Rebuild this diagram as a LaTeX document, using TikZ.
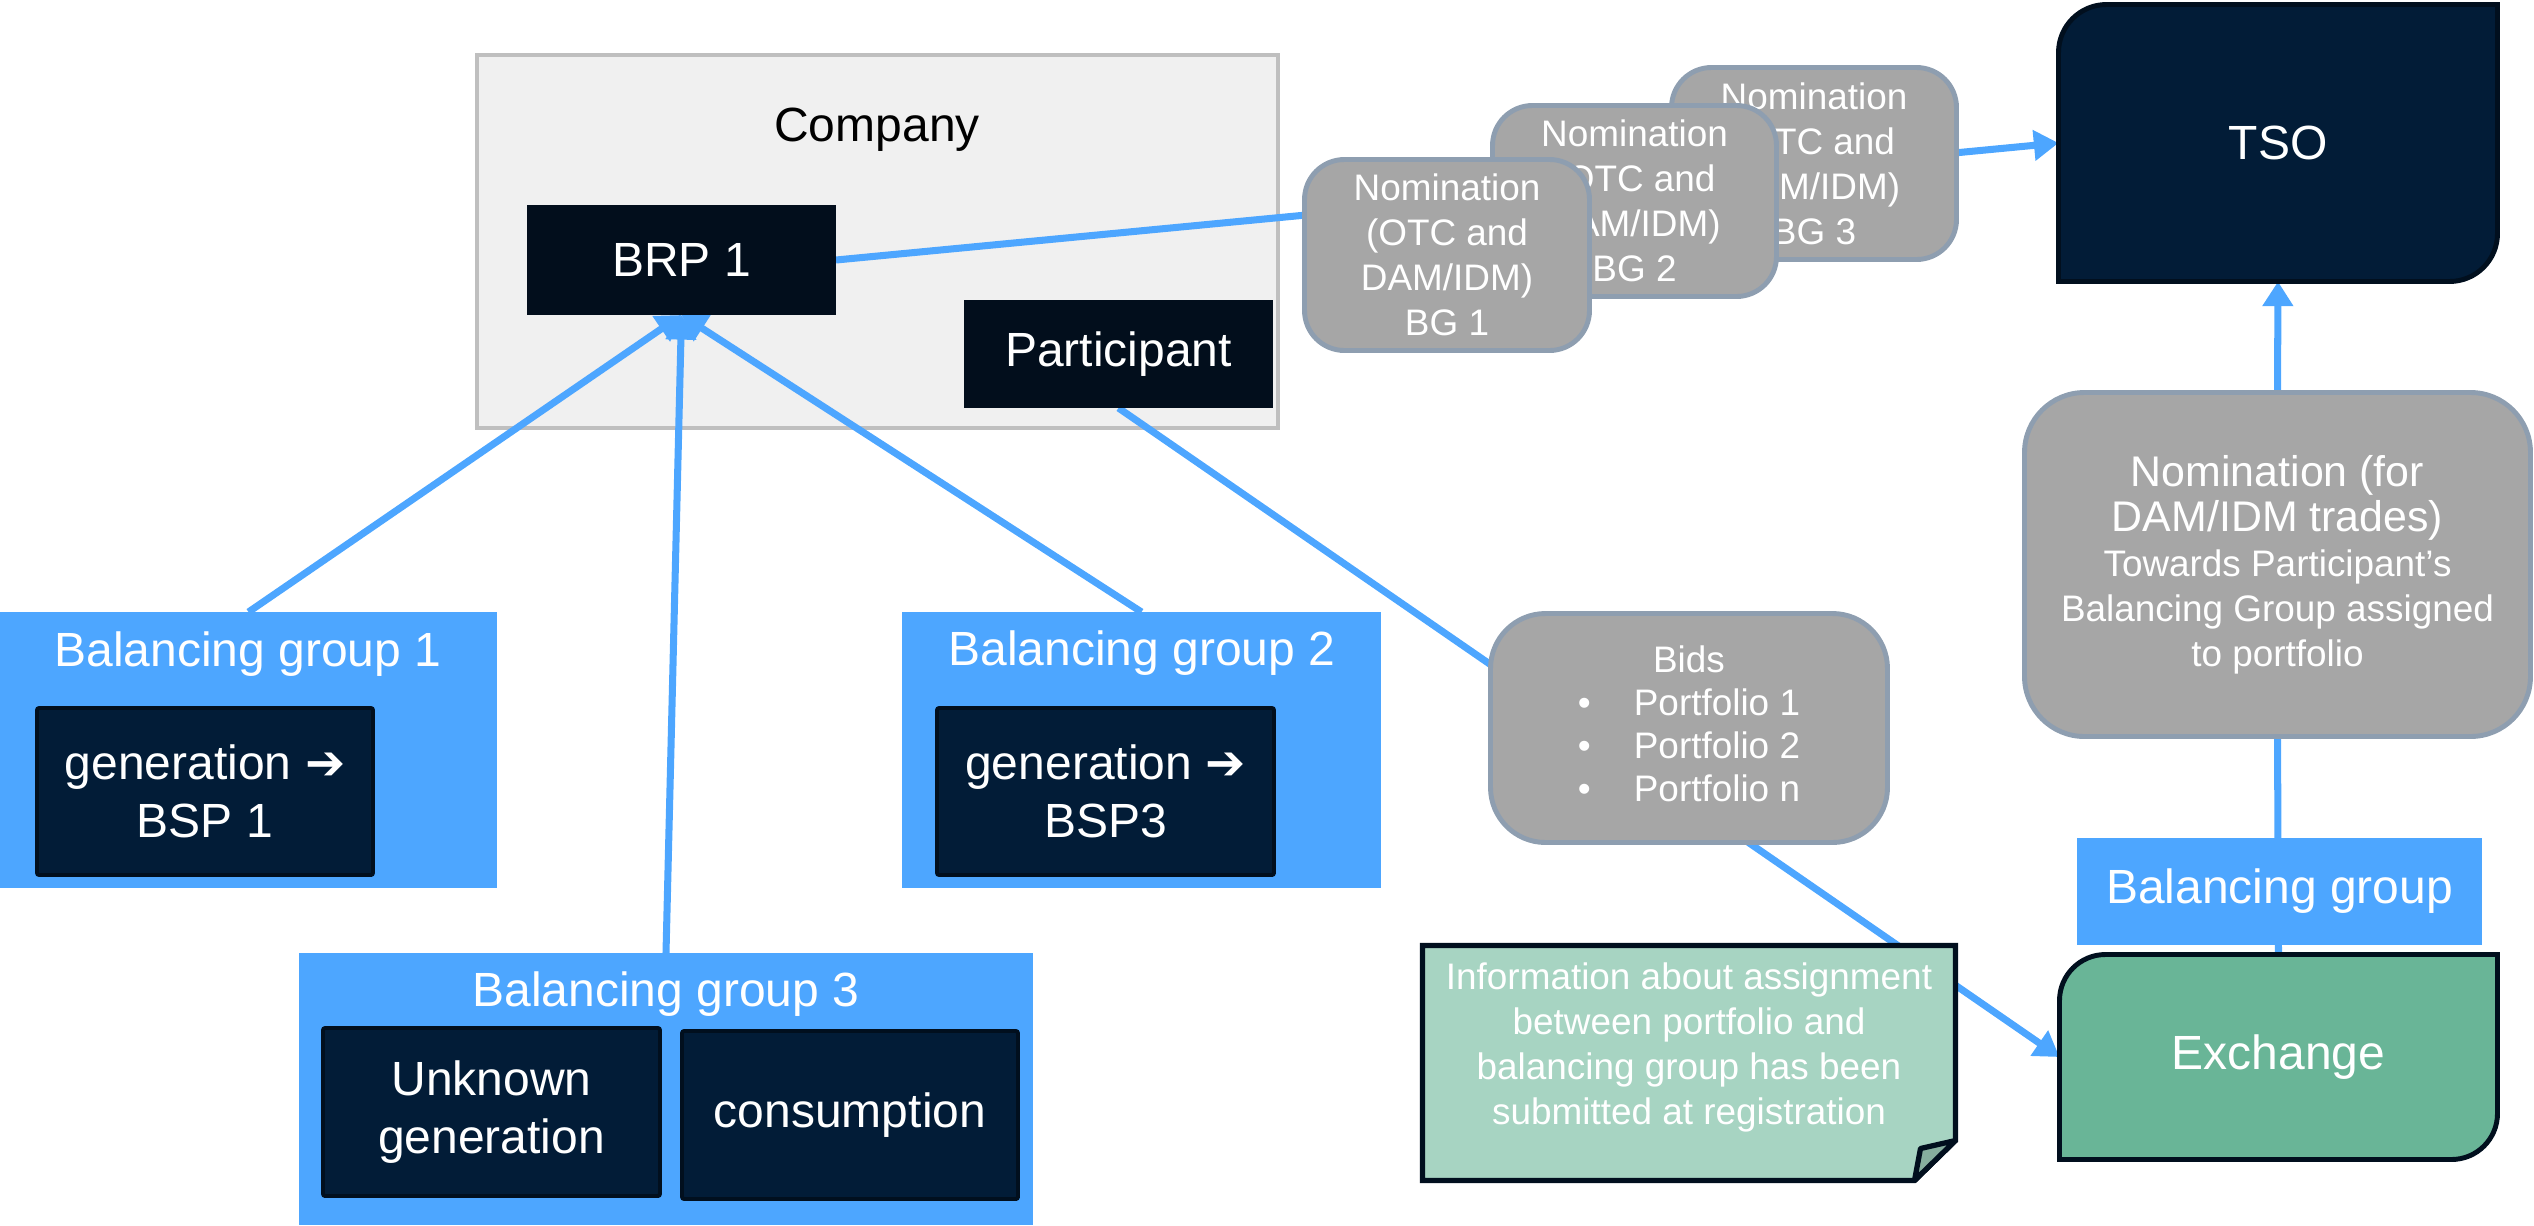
\documentclass[tikz,border=0pt]{standalone}
\usepackage{fontspec}
\setmainfont{Liberation Sans}
\newfontfamily\arrowfont{DejaVu Sans}
\usetikzlibrary{arrows.meta,calc}

\definecolor{flowblue}{HTML}{4DA6FF}
\definecolor{navy}{HTML}{021C37}
\definecolor{navyedge}{HTML}{010F1E}
\definecolor{brpblack}{HTML}{020E1C}
\definecolor{nomgray}{HTML}{A6A6A6}
\definecolor{nomedge}{HTML}{8E9EB0}
\definecolor{companyfill}{HTML}{F0F0F0}
\definecolor{companyedge}{HTML}{BFBFBF}
\definecolor{exchgreen}{HTML}{69B597}
\definecolor{notegreen}{HTML}{A7D4C2}
\definecolor{notefold}{HTML}{86AE9E}

\pgfdeclarelayer{background}
\pgfdeclarelayer{lines}
\pgfdeclarelayer{shapes}
\pgfsetlayers{background,lines,shapes,main}

% rectangle with rounded top-left and bottom-right corners, built on a node
\newcommand\diagcorners[2]{(#1.south west) -- ([yshift=-#2]#1.north west)
  arc[start angle=180,end angle=90,radius=#2] -- (#1.north east)
  -- ([yshift=#2]#1.south east) arc[start angle=0,end angle=-90,radius=#2] -- cycle}

\tikzset{
  bigfont/.style={font=\fontsize{13.66}{16.5}\selectfont},
  smallfont/.style={font=\fontsize{10.5}{12.8}\selectfont},
  box/.style={rectangle, inner sep=0pt, outer sep=0pt, align=center, text=white},
  darkbox/.style={box, fill=brpblack, bigfont},
  navybox/.style={box, fill=navy, draw=navyedge, line width=1.1pt, rounded corners=0.6pt, bigfont},
  groupbox/.style={box, fill=flowblue},
  grouptitle/.style={inner sep=0pt, text=white, bigfont},
  nomination/.style={box, fill=nomgray, draw=nomedge, line width=1.4pt, rounded corners=4mm, smallfont},
  flow/.style={draw=flowblue, line width=2pt, -{Triangle[length=7pt,width=8.4pt]}},
  link/.style={draw=flowblue, line width=2pt},
}

\begin{document}
\begin{tikzpicture}[x=0.1mm,y=-0.1mm]
\useasboundingbox (0,0) rectangle (2534,1225);

% company frame
\begin{pgfonlayer}{background}
  \node[box, fill=companyfill, draw=companyedge, line width=1.15pt,
        minimum width=80.1mm, minimum height=37.3mm] (company) at (877.5,241.5) {};
\end{pgfonlayer}
\node[inner sep=0pt, bigfont] (companylbl) at (877,130) {Company};
\node[darkbox, minimum width=30.9mm, minimum height=11mm] (brp) at (681.5,260) {BRP 1};
\node[darkbox, minimum width=30.9mm, minimum height=10.8mm] (part) at (1118.5,354) {Participant};

% nominations per balancing group
\node[nomination, minimum width=28.5mm, minimum height=19.2mm] (nom3) at (1814,163.5) {Nomination\\(OTC and\\DAM/IDM)\\BG 3};
\node[nomination, minimum width=28.4mm, minimum height=19.1mm] (nom2) at (1634.5,201) {Nomination\\(OTC and\\DAM/IDM)\\BG 2};
\node[nomination, minimum width=28.5mm, minimum height=19.1mm] (nom1) at (1447,255) {Nomination\\(OTC and\\DAM/IDM)\\BG 1};

% TSO
\node[box, bigfont, minimum width=43.9mm, minimum height=27.7mm] (tso) at (2278,143) {TSO};
\begin{pgfonlayer}{shapes}
  \filldraw[fill=navy, draw=navyedge, line width=1.4pt] \diagcorners{tso}{4.8mm};
\end{pgfonlayer}

% nomination for exchange trades
\node[nomination, rounded corners=6mm, minimum width=50.6mm, minimum height=34.4mm] (nomdam) at (2277.5,564.5)
  {\fontsize{12.2}{14.4}\selectfont Nomination (for\\\fontsize{12.2}{14.4}\selectfont DAM/IDM trades)\\
   \fontsize{10.5}{12.8}\selectfont Towards Participant’s\\Balancing Group assigned\\to portfolio};

% bids
\node[nomination, rounded corners=5.5mm, minimum width=39.7mm, minimum height=22.9mm] (bids) at (1689,728)
  {\begin{tabular}{@{}c@{\hspace{4.3mm}}l@{}}
     \multicolumn{2}{c}{Bids}\\[-0.5pt]
     • & Portfolio 1\\[-0.5pt]
     • & Portfolio 2\\[-0.5pt]
     • & Portfolio n
   \end{tabular}};

% balancing group on the exchange side
\node[groupbox, bigfont, minimum width=40.5mm, minimum height=10.7mm] (bgr) at (2279.5,891.5) {Balancing group};

% exchange
\node[box, bigfont, minimum width=43.8mm, minimum height=20.5mm] (exch) at (2278.5,1057) {Exchange};
\begin{pgfonlayer}{shapes}
  \filldraw[fill=exchgreen, draw=navyedge, line width=1.4pt] \diagcorners{exch}{4.6mm};
\end{pgfonlayer}

% registration note
\node[box, minimum width=53.3mm, minimum height=23.5mm] (note) at (1689,1063) {};
\begin{pgfonlayer}{shapes}
  \filldraw[fill=notegreen, draw=navyedge, line width=1.5pt]
    (note.north west) -- (note.north east) -- ([yshift=4mm]note.south east)
    -- ([xshift=-4.1mm]note.south east) -- (note.south west) -- cycle;
  \filldraw[fill=notefold, draw=navyedge, line width=1.5pt, line join=round]
    ([yshift=4mm]note.south east) -- ([xshift=-3.5mm,yshift=3.2mm]note.south east)
    -- ([xshift=-4.1mm]note.south east) -- cycle;
\end{pgfonlayer}
\node[inner sep=0pt, align=center, text=white, smallfont] (notetext) at (1689,1047)
  {Information about assignment\\between portfolio and\\balancing group has been\\submitted at registration};

% balancing groups
\node[groupbox, minimum width=49.7mm, minimum height=27.6mm] (bg1) at (248.5,750) {};
\node[grouptitle] (bg1t) at (248,654) {Balancing group 1};
\node[navybox, minimum width=33.6mm, minimum height=16.7mm] (bg1in) at (205,791.5) {generation {\arrowfont\bfseries ➔}\\BSP 1};

\node[groupbox, minimum width=47.9mm, minimum height=27.6mm] (bg2) at (1141.5,750) {};
\node[grouptitle] (bg2t) at (1142,653) {Balancing group 2};
\node[navybox, minimum width=33.7mm, minimum height=16.7mm] (bg2in) at (1105.5,791.5) {generation {\arrowfont\bfseries ➔}\\BSP3};

\node[groupbox, minimum width=73.4mm, minimum height=27.2mm] (bg3) at (666,1089) {};
\node[grouptitle] (bg3t) at (666,994) {Balancing group 3};
\node[navybox, minimum width=33.7mm, minimum height=16.8mm] (bg3a) at (491.5,1112) {Unknown\\generation};
\node[navybox, minimum width=33.6mm, minimum height=16.8mm] (bg3b) at (850,1115) {consumption};

% connectors
\begin{pgfonlayer}{lines}
  \draw[flow] (brp.east) -- (tso.west);
  \draw[flow] (bg1.north) -- (brp.south);
  \draw[flow] (bg3.north) -- (brp.south);
  \draw[flow] (bg2.north) -- (brp.south);
  \draw[flow] (part.south) -- (exch.west);
  \draw[flow] (nomdam.north) -- (tso.south);
  \draw[link] (exch.north) -- (nomdam.south);
\end{pgfonlayer}
\end{tikzpicture}
\end{document}
